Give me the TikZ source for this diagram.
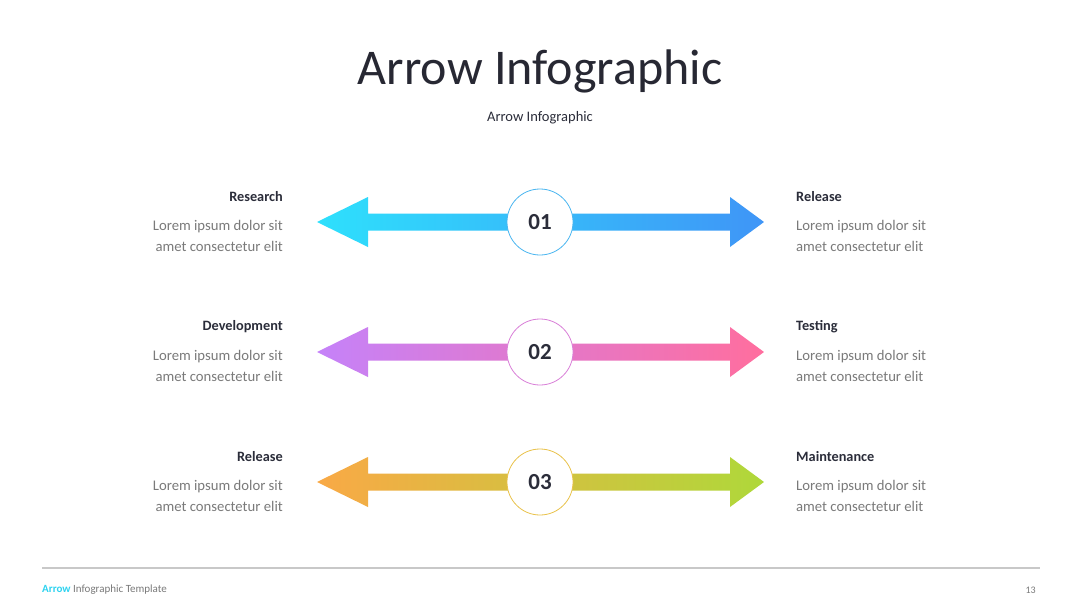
\documentclass[tikz,border=0pt]{standalone}
\usepackage{fontspec}
\setmainfont{Carlito}
\definecolor{titlec}{HTML}{272833}
\definecolor{headc}{HTML}{2B2D3A}
\definecolor{bodyc}{HTML}{7A7A7A}
\definecolor{linec}{HTML}{C8C8C8}
\definecolor{foot}{HTML}{2ED3F0}
\definecolor{aL}{HTML}{2EE0FC}\definecolor{aR}{HTML}{3F95F7}
\definecolor{bL}{HTML}{C582F9}\definecolor{bR}{HTML}{FF6E9E}
\definecolor{cL}{HTML}{F9A946}\definecolor{cR}{HTML}{AFD83A}
\definecolor{aC}{HTML}{4AB6F0}\definecolor{bC}{HTML}{D97FD8}\definecolor{cC}{HTML}{E9C24A}
\tikzset{
  head/.style={font=\fontsize{14.3}{16}\selectfont\bfseries, text=headc, inner sep=0pt},
  bodytxt/.style={font=\fontsize{14.7}{21}\selectfont, text=bodyc, inner sep=0pt},
  numcirc/.style={circle, fill=white, draw=#1, line width=0.8pt, minimum size=66pt, inner sep=0pt,
    font=\fontsize{23}{24}\selectfont\bfseries, text=headc},
}
\newcommand{\dblarrow}[3]{%
  \shade[left color=#2, right color=#3]
    (317,#1) -- (368,#1-25) -- (368,#1-8.5) -- (730,#1-8.5) -- (730,#1-25) -- (764,#1)
    -- (730,#1+25) -- (730,#1+8.5) -- (368,#1+8.5) -- (368,#1+25) -- cycle;}
\begin{document}
\begin{tikzpicture}[x=1pt,y=-1pt]
\useasboundingbox (0,0) rectangle (1080,608);
\fill[white] (0,0) rectangle (1080,608);
\node[font=\fontsize{50}{52}\selectfont, text=titlec] (title) at (540,71) {Arrow Infographic};
\node[font=\fontsize{14.5}{16}\selectfont, text=headc] (sub) at (540,118) {Arrow Infographic};

\dblarrow{222}{aL}{aR}
\dblarrow{352}{bL}{bR}
\dblarrow{482}{cL}{cR}
\node[numcirc=aC] (c1) at (540,222) {01};
\node[numcirc=bC] (c2) at (540,352) {02};
\node[numcirc=cC] (c3) at (540,482) {03};

% left texts
\node[head, anchor=east] (l1h) at (283,197) {Research};
\node[bodytxt, anchor=north east, align=right] (l1b) at (283,220) {Lorem ipsum dolor sit\\amet consectetur elit};
\node[head, anchor=east] (l2h) at (283,327) {Development};
\node[bodytxt, anchor=north east, align=right] (l2b) at (283,350) {Lorem ipsum dolor sit\\amet consectetur elit};
\node[head, anchor=east] (l3h) at (283,457) {Release};
\node[bodytxt, anchor=north east, align=right] (l3b) at (283,480) {Lorem ipsum dolor sit\\amet consectetur elit};
% right texts
\node[head, anchor=west] (r1h) at (796,197) {Release};
\node[bodytxt, anchor=north west, align=left] (r1b) at (796,220) {Lorem ipsum dolor sit\\amet consectetur elit};
\node[head, anchor=west] (r2h) at (796,327) {Testing};
\node[bodytxt, anchor=north west, align=left] (r2b) at (796,350) {Lorem ipsum dolor sit\\amet consectetur elit};
\node[head, anchor=west] (r3h) at (796,457) {Maintenance};
\node[bodytxt, anchor=north west, align=left] (r3b) at (796,480) {Lorem ipsum dolor sit\\amet consectetur elit};

% footer
\draw[linec, line width=1.5pt] (42,568) -- (1040,568);
\node[anchor=west, inner sep=0pt, font=\fontsize{11}{12}\selectfont] (ft) at (42,590)
  {\textcolor{foot}{\bfseries Arrow} \textcolor{bodyc}{Infographic Template}};
\node[anchor=east, inner sep=0pt, font=\fontsize{10}{12}\selectfont, text=bodyc] (pg) at (1036,590) {13};
\end{tikzpicture}
\end{document}
